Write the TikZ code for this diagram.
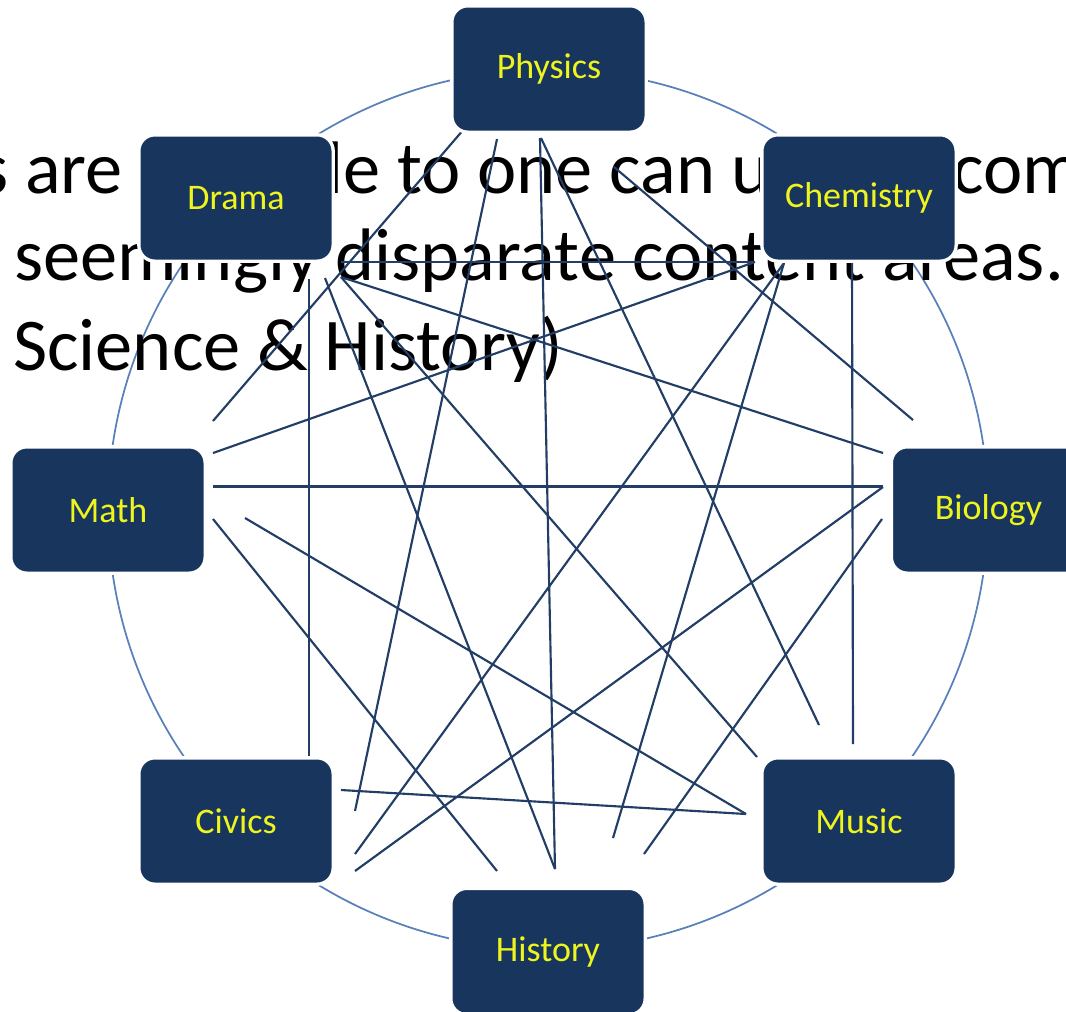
\documentclass[tikz,border=0pt]{standalone}
\usepackage{fontspec}
\setmainfont{Carlito}
\definecolor{boxblue}{RGB}{24,54,93}
\definecolor{labelyellow}{RGB}{238,244,30}
\definecolor{linkblue}{RGB}{34,62,102}
\definecolor{ringblue}{RGB}{88,128,186}
\pgfdeclarelayer{bg}
\pgfdeclarelayer{links}
\pgfsetlayers{bg,links,main}
\begin{document}
\begin{tikzpicture}[x=0.75pt,y=-0.75pt,
  topic/.style={rounded corners=12pt, fill=boxblue, draw=white, line width=2.5pt,
    minimum width=145.75pt, minimum height=94.75pt, inner sep=0pt,
    text=labelyellow, font=\fontsize{27}{32}\selectfont},
  link/.style={draw=linkblue, line width=1.6pt},
  ring/.style={draw=ringblue, line width=1.3pt},
  bgtext/.style={inner sep=0pt, text=black, font=\fontsize{55.8}{66}\selectfont}]
\useasboundingbox (0,0) rectangle (1066,1011);
\begin{pgfonlayer}{bg}
\fill[white] (0,0) rectangle (1066,1011);
\coordinate (centre) at (548,509.5);
\draw[ring] (centre) circle[radius=440];
\node[bgtext, anchor=base east] (t1a) at (123,193) {s are};
\node[bgtext, anchor=base west] (t1b) at (326,193) {le to one can u};
\node[bgtext, anchor=base west] (t1c) at (952,193) {com};
\node[bgtext, anchor=base west] (t2) at (14,280) {seemingly disparate content areas.};
\node[bgtext, anchor=base west] (t3) at (13,370) {Science \& History)};
\end{pgfonlayer}

% boxes
\node[topic] (Physics)   at (549,69)    {Physics};
\node[topic] (Drama)     at (236,198)   {Drama};
\node[topic] (Chemistry) at (859,198)   {Chemistry};
\node[topic] (Math)      at (108,510)   {Math};
\node[topic] (Biology)   at (988.5,510) {Biology};
\node[topic] (Civics)    at (236,821)   {Civics};
\node[topic] (Music)     at (859,821)   {Music};
\node[topic] (History)   at (548,951.5) {History};

% connector end points
\coordinate (PhyMath) at (464,129);   \coordinate (MathPhy) at (213,421);
\coordinate (PhyCiv)  at (497,139);   \coordinate (CivPhy)  at (355,811);
\coordinate (PhyHis)  at (540,138);   \coordinate (HisPhy)  at (555,869);
\coordinate (PhyMus)  at (541,138);   \coordinate (MusPhy)  at (819,725);
\coordinate (PhyBio)  at (614,167);   \coordinate (BioPhy)  at (913,420);
\coordinate (DraChe)  at (341,262);   \coordinate (CheDra)  at (755,262);
\coordinate (DraBio)  at (341,277);   \coordinate (BioDra)  at (883,453);
\coordinate (DraMus)  at (341,277);   \coordinate (MusDra)  at (757,757);
\coordinate (DraHis)  at (325,278);   \coordinate (HisDra)  at (555,869);
\coordinate (DraCiv)  at (309,279);   \coordinate (CivDra)  at (309,757);
\coordinate (CheMath) at (755,262);   \coordinate (MathChe) at (213,453);
\coordinate (CheCiv)  at (784,263);   \coordinate (CivChe)  at (355,854);
\coordinate (CheHis)  at (784,263);   \coordinate (HisChe)  at (613,838);
\coordinate (CheMus)  at (852,263);   \coordinate (MusChe)  at (853,744);
\coordinate (MathBio) at (213,486.5); \coordinate (BioMath) at (883,486.5);
\coordinate (MathMus) at (245,518);   \coordinate (MusMath) at (746,814);
\coordinate (MathHis) at (213,519);   \coordinate (HisMath) at (497,871);
\coordinate (BioCiv)  at (883,487);   \coordinate (CivBio)  at (355,871);
\coordinate (BioHis)  at (882,519);   \coordinate (HisBio)  at (644,854);
\coordinate (CivMus)  at (341,790);   \coordinate (MusCiv)  at (746,814);

\begin{pgfonlayer}{links}
\draw[link] (PhyMath) -- (MathPhy);
\draw[link] (PhyCiv) -- (CivPhy);
\draw[link] (PhyHis) -- (HisPhy);
\draw[link] (PhyMus) -- (MusPhy);
\draw[link] (PhyBio) -- (BioPhy);
\draw[link] (DraChe) -- (CheDra);
\draw[link] (DraBio) -- (BioDra);
\draw[link] (DraMus) -- (MusDra);
\draw[link] (DraHis) -- (HisDra);
\draw[link] (DraCiv) -- (CivDra);
\draw[link] (CheMath) -- (MathChe);
\draw[link] (CheCiv) -- (CivChe);
\draw[link] (CheHis) -- (HisChe);
\draw[link] (CheMus) -- (MusChe);
\draw[link] (MathBio) -- (BioMath);
\draw[link] (MathMus) -- (MusMath);
\draw[link] (MathHis) -- (HisMath);
\draw[link] (BioCiv) -- (CivBio);
\draw[link] (BioHis) -- (HisBio);
\draw[link] (CivMus) -- (MusCiv);
\end{pgfonlayer}
\end{tikzpicture}
\end{document}
